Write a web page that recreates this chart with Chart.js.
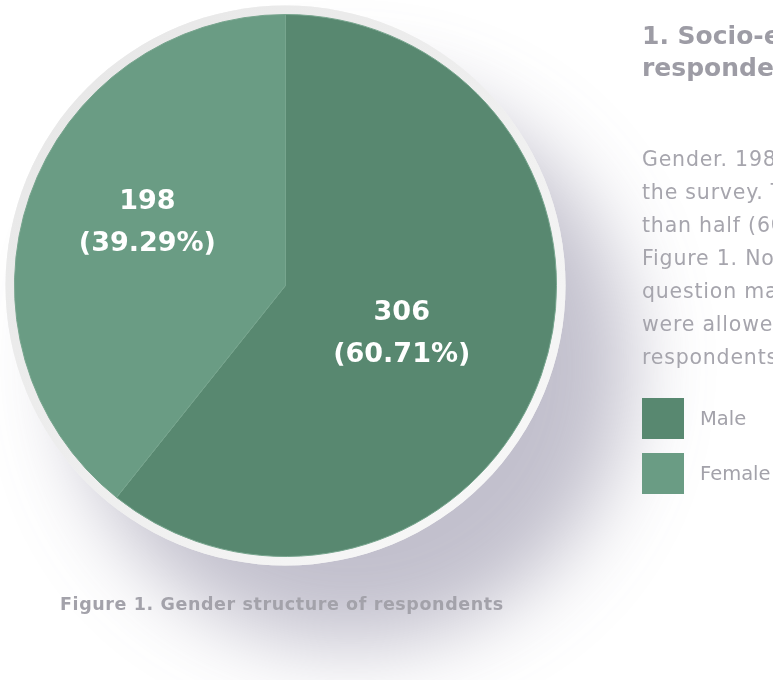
<!DOCTYPE html>
<html>
<head>
<meta charset="utf-8">
<script src="https://cdn.jsdelivr.net/npm/chart.js@4.4.1/dist/chart.umd.min.js"></script>
<style>
  html, body { margin: 0; padding: 0; background: #fff; }
  body { width: 773px; height: 680px; position: relative; overflow: hidden; font-family: "DejaVu Sans", sans-serif; }
  #chart { position: absolute; left: 0; top: 0; }
  .title { position: absolute; left: 642px; top: 20px; font-weight: 700; font-size: 25px; line-height: 32px; color: #9d9ca5; white-space: nowrap; }
  .body { position: absolute; left: 642px; top: 143px; font-size: 20.5px; letter-spacing: 0.8px; line-height: 33px; color: #a6a5ad; white-space: nowrap; }
  .legend { position: absolute; left: 642px; top: 398px; }
  .legend div { height: 41px; margin-bottom: 14px; display: flex; align-items: center; font-size: 19.5px; color: #a3a2aa; white-space: nowrap; }
  .legend span { display: inline-block; width: 42px; height: 41px; margin-right: 16px; flex: none; }
  .caption { position: absolute; left: 60px; top: 594px; font-weight: 700; font-size: 17.5px; letter-spacing: 0.6px; color: #a3a2aa; white-space: nowrap; }
</style>
</head>
<body>
<canvas id="chart" width="773" height="680"></canvas>
<div class="title">1. Socio-economic characteristics of<br>respondents</div>
<div class="body">
Gender. 198 (39.29%) women and 306 men took part in<br>
the survey. The male part of the sample makes up more<br>
than half (60.71%) of all respondents, as shown in<br>
Figure 1. Note that answers to the gender<br>
question may not add up to the total, as respondents<br>
were allowed to skip it, so the total number of<br>
respondents may vary between questions.
</div>
<div class="legend" id="legend"></div>
<div class="caption">Figure 1. Gender structure of respondents</div>
<script>
const labels = ["Male", "Female"];
const values = [306, 198];
const colors = ['#588870', '#6a9c84'];
// label placement per slice: fraction of radius and a small angle nudge (deg)
const labelRadius = [0.465, 0.56];
const labelNudge = [3.4, 5.2];

const total = values.reduce((a, b) => a + b, 0);

// html legend
const legendEl = document.getElementById('legend');
labels.forEach((l, i) => {
  const row = document.createElement('div');
  row.innerHTML = '<span style="background:' + colors[i] + '"></span>' + l;
  legendEl.appendChild(row);
});

const backdrop = {
  id: 'backdrop',
  beforeDatasetsDraw(chart) {
    const arc = chart.getDatasetMeta(0).data[0];
    if (!arc) return;
    const ctx = chart.ctx;
    const r = arc.outerRadius + 9;
    ctx.save();
    // soft shadow to the lower right
    ctx.shadowColor = 'rgba(110, 105, 135, 0.42)';
    ctx.shadowBlur = 80;
    ctx.shadowOffsetX = 65;
    ctx.shadowOffsetY = 80;
    ctx.beginPath();
    ctx.arc(arc.x, arc.y, r, 0, Math.PI * 2);
    ctx.fillStyle = '#f2f2f2';
    ctx.fill();
    ctx.restore();
    // light ring
    ctx.save();
    const g = ctx.createLinearGradient(arc.x - r, arc.y - r, arc.x + r, arc.y + r);
    g.addColorStop(0, '#e6e6e6');
    g.addColorStop(0.5, '#eeeeee');
    g.addColorStop(1, '#fafafa');
    ctx.beginPath();
    ctx.arc(arc.x, arc.y, r, 0, Math.PI * 2);
    ctx.fillStyle = g;
    ctx.fill();
    ctx.restore();
  }
};

const sliceLabels = {
  id: 'sliceLabels',
  afterDatasetsDraw(chart) {
    const ctx = chart.ctx;
    chart.getDatasetMeta(0).data.forEach((arc, i) => {
      const mid = (arc.startAngle + arc.endAngle) / 2 + labelNudge[i] * Math.PI / 180;
      const d = arc.outerRadius * labelRadius[i];
      const x = arc.x + Math.cos(mid) * d;
      const y = arc.y + Math.sin(mid) * d;
      const pct = (values[i] / total * 100).toFixed(2);
      ctx.save();
      ctx.fillStyle = '#ffffff';
      ctx.font = 'bold 27px "DejaVu Sans"';
      ctx.textAlign = 'center';
      ctx.textBaseline = 'middle';
      ctx.fillText(String(values[i]), x, y - 21);
      ctx.fillText('(' + pct + '%)', x, y + 21);
      ctx.restore();
    });
  }
};

const myChart = new Chart(document.getElementById('chart').getContext('2d'), {
  type: 'pie',
  data: {
    labels: labels,
    datasets: [{
      data: values,
      backgroundColor: colors,
      borderColor: '#77a58e',
      borderWidth: 1
    }]
  },
  options: {
    responsive: false,
    animation: false,
    layout: {
      padding: { left: 14, top: 14, right: 216, bottom: 123 }
    },
    plugins: {
      legend: { display: false },
      tooltip: { enabled: false }
    }
  },
  plugins: [backdrop, sliceLabels]
});
</script>
</body>
</html>
